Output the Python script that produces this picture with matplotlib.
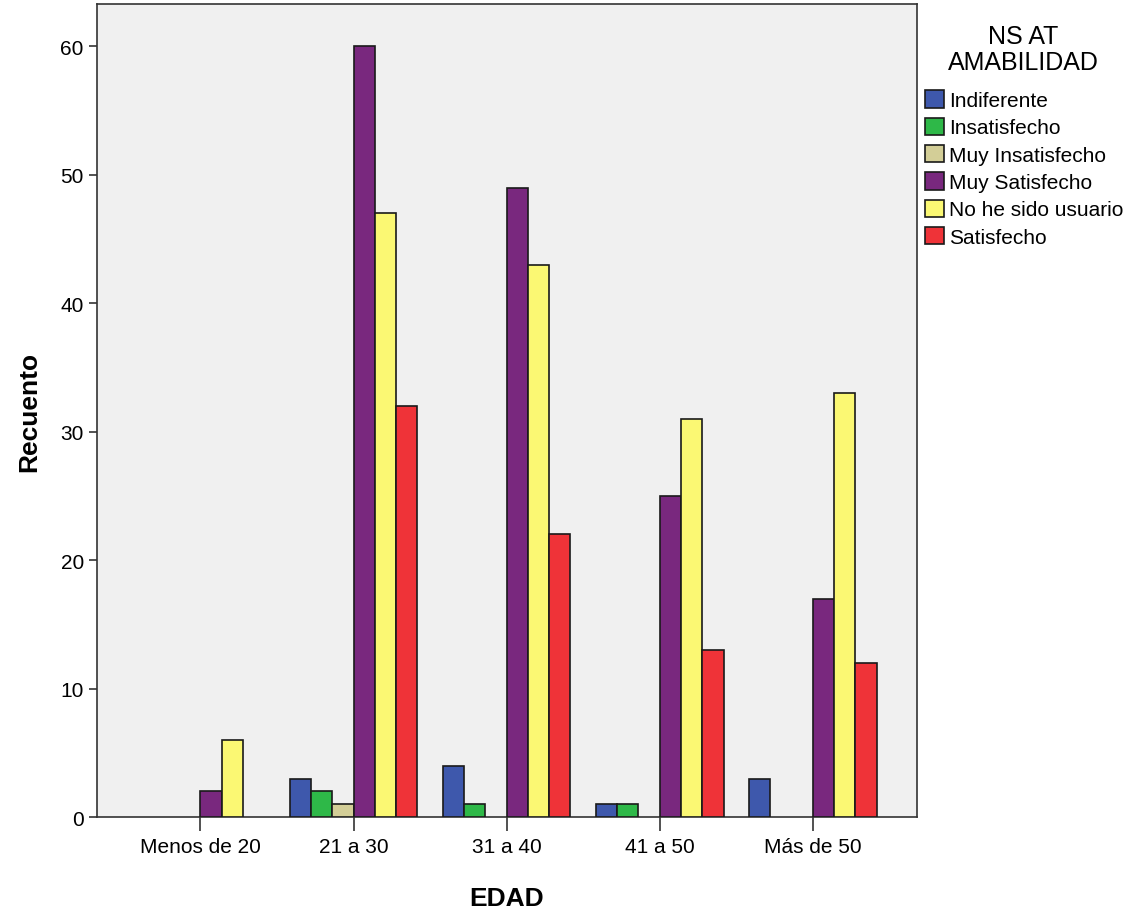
import numpy as np
import matplotlib.pyplot as plt

plt.rcParams['font.family'] = ['Liberation Sans', 'DejaVu Sans']

edades = ["Menos de 20", "21 a 30", "31 a 40", "41 a 50", "Más de 50"]
niveles = ["Indiferente", "Insatisfecho", "Muy Insatisfecho",
           "Muy Satisfecho", "No he sido usuario", "Satisfecho"]
colores = ["#3E58AC", "#2EB848", "#D3CE97", "#79287E", "#FBF873", "#EF3338"]

indiferente = [0, 3, 4, 1, 3]
insatisfecho = [0, 2, 1, 1, 0]
muy_insatisfecho = [0, 1, 0, 0, 0]
muy_satisfecho = [2, 60, 49, 25, 17]
no_usuario = [6, 47, 43, 31, 33]
satisfecho = [0, 32, 22, 13, 12]

series = [indiferente, insatisfecho, muy_insatisfecho,
          muy_satisfecho, no_usuario, satisfecho]

fig = plt.figure(figsize=(11.32, 9.12), dpi=100)
ax = fig.add_axes([0.0857, 0.103, 0.7244, 0.8915])
ax.set_facecolor("#F0F0F0")

x = np.arange(len(edades))
ancho = 0.139
for i, (valores, nombre, color) in enumerate(zip(series, niveles, colores)):
    pos = x + (i - 3) * ancho
    vals = np.array(valores, dtype=float)
    # las barras con recuento cero no se dibujan, pero dejan su hueco
    mask = vals > 0
    ax.bar(pos[mask], vals[mask], width=ancho, align="edge", color=color,
           edgecolor="#1a1a1a", linewidth=1.2, label=nombre, zorder=3)

ax.set_xlim(-0.675, 4.68)
ax.set_ylim(0, 63.3)
ax.set_xticks(x)
ax.set_xticklabels(edades, fontsize=15)
ax.set_yticks(range(0, 61, 10))
ax.tick_params(axis="y", labelsize=15, length=6, width=1.2, color="#333333")
ax.tick_params(axis="x", length=10, width=1.2, color="#333333", pad=4)
for s in ax.spines.values():
    s.set_color("#333333")
    s.set_linewidth(1.2)

ax.set_xlabel("EDAD", fontsize=19, fontweight="bold", labelpad=22)
ax.set_ylabel("Recuento", fontsize=19, fontweight="bold", labelpad=14)

fig.text(0.9037, 0.945, "NS AT\nAMABILIDAD", fontsize=18, ha="center",
         va="center", multialignment="center", linespacing=1.08)
fig.legend(loc="upper left", bbox_to_anchor=(0.81, 0.909),
           frameon=False, fontsize=15, handlelength=0.9, handleheight=0.9,
           handletextpad=0.25, labelspacing=0.36, borderaxespad=0)

fig.savefig("out.png", dpi=100)
